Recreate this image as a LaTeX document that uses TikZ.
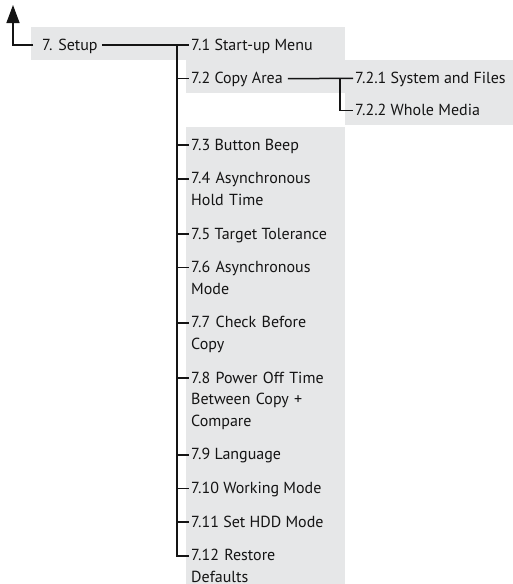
\documentclass[tikz,border=0pt]{standalone}
\usepackage{fontspec}
\setmainfont{PT Sans}
\usepackage{tikz}
\usetikzlibrary{arrows.meta,positioning}
\definecolor{panel}{RGB}{230,231,232}
\definecolor{ink}{RGB}{20,20,20}
\newcommand\menufont{\fontsize{16pt}{21.5pt}\selectfont}
\tikzset{
  item/.style={
    font=\menufont, text=ink, inner xsep=2pt, inner ysep=1pt,
    execute at begin node=\strut, execute at end node=\strut
  },
  multi/.style={
    item, text width=150pt, align=left
  },
  sub/.style={
    item, below=of #1.south west, anchor=north west
  },
  link/.style={draw=ink, line width=1.5pt}
}
\begin{document}
\begin{tikzpicture}[x=1pt, y=1pt, >=latex, node distance=9.8pt]
\useasboundingbox (0,0) rectangle (513,-584);
% grey panels
\fill[panel] (31,-27) rectangle (345,-60);
\fill[panel] (186,-60) rectangle (345,-93);
\fill[panel] (345,-60) rectangle (513,-125);
\fill[panel] (186,-127) rectangle (345,-584);
% menu entries
\node[item, anchor=base west] (setup) at (40,-50) {7. Setup};
\node[item, anchor=base west] (s71) at (189,-50) {7.1 Start-up Menu};
\node[sub=s71] (s72) {7.2 Copy Area};
\node[item, below=42.5pt of s72.south west, anchor=north west] (s73) {7.3 Button Beep};
\node[sub=s73, multi] (s74) {7.4 Asynchronous\\Hold Time};
\node[sub=s74] (s75) {7.5 Target Tolerance};
\node[sub=s75, multi] (s76) {7.6 Asynchronous\\Mode};
\node[sub=s76, multi] (s77) {7.7 Check Before\\Copy};
\node[sub=s77, multi] (s78) {7.8 Power Off Time\\Between Copy +\\Compare};
\node[sub=s78] (s79) {7.9 Language};
\node[sub=s79] (s710) {7.10 Working Mode};
\node[sub=s710] (s711) {7.11 Set HDD Mode};
\node[sub=s711, multi, execute at end node={}] (s712) {7.12 Restore\\Defaults};
\node[item, anchor=base west] (s721) at (353,-83.3) {7.2.1 System and Files};
\node[item, below=8.5pt of s721.south west, anchor=north west] (s722) {7.2.2 Whole Media};
% connectors
\coordinate (up) at (13,-5);
\coordinate (fork) at (177,-45);
\coordinate (fork2) at (340,-78.3);
\foreach \n in {setup,s71,s72,s73,s74,s75,s76,s77,s78,s79,s710,s711,s712,s721,s722}
  \coordinate (\n-in) at ([yshift=5pt]\n.base west);
\draw[link, shorten <=7pt, -{Triangle[width=13pt,length=18pt]}] (setup-in) -| (up);
\draw[link, shorten <=2pt] ([yshift=5pt]setup.base east) -- (s71-in);
\draw[link] (fork) |- (s712-in);
\foreach \n in {s72,s73,s74,s75,s76,s77,s78,s79,s710,s711}
  \draw[link] (fork |- \n-in) -- (\n-in);
\draw[link, shorten <=3pt] ([yshift=5pt]s72.base east) -- (s721-in);
\draw[link] (fork2) |- (s722-in);
\end{tikzpicture}
\end{document}
